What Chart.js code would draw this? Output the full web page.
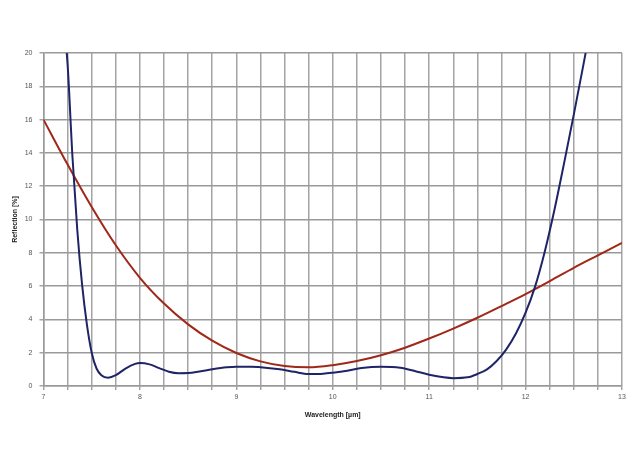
<!DOCTYPE html>
<html>
<head>
<meta charset="utf-8">
<script src="https://cdn.jsdelivr.net/npm/chart.js@4/dist/chart.umd.min.js"></script>
<style>
  html, body { margin: 0; padding: 0; background: #ffffff; }
  #wrap { width: 633px; height: 475px; }
</style>
</head>
<body>
<div id="wrap"><canvas id="c" width="633" height="475"></canvas></div>
<script>
// Wavelength [µm] / Reflection [%] for the two curves
const blueX = [7.20, 7.25, 7.30, 7.35, 7.40, 7.45, 7.50, 7.55, 7.60, 7.67, 7.75, 7.85, 7.95, 8.00, 8.10, 8.20, 8.30, 8.40, 8.50, 8.60, 8.75, 8.90, 9.00, 9.15, 9.30, 9.45, 9.60, 9.75, 9.90, 10.00, 10.15, 10.30, 10.50, 10.70, 10.85, 11.00, 11.15, 11.25, 11.40, 11.50, 11.60, 11.70, 11.80, 11.90, 12.00, 12.10, 12.20, 12.30, 12.40, 12.50, 12.60, 12.70];
const blueY = [22.5, 19.3, 13.8, 9.4, 6.1, 3.7, 2.0, 1.05, 0.65, 0.5, 0.65, 1.05, 1.33, 1.38, 1.3, 1.07, 0.86, 0.77, 0.78, 0.85, 1.0, 1.12, 1.16, 1.15, 1.1, 1.0, 0.85, 0.72, 0.74, 0.8, 0.92, 1.08, 1.16, 1.1, 0.9, 0.68, 0.52, 0.47, 0.52, 0.72, 1.0, 1.5, 2.2, 3.15, 4.4, 6.0, 8.1, 10.6, 13.4, 16.3, 19.3, 22.4];
const redX = [7.0, 7.25, 7.5, 7.75, 8.0, 8.25, 8.5, 8.75, 9.0, 9.25, 9.5, 9.75, 10.0, 10.25, 10.5, 10.75, 11.0, 11.25, 11.5, 11.75, 12.0, 12.25, 12.5, 12.75, 13.0];
const redY = [16.0, 13.3, 10.75, 8.45, 6.5, 4.95, 3.7, 2.72, 1.98, 1.48, 1.2, 1.12, 1.25, 1.5, 1.85, 2.3, 2.85, 3.45, 4.1, 4.8, 5.52, 6.3, 7.1, 7.85, 8.6];
const xTitle = 'Wavelength [µm]';
const yTitle = 'Reflection [%]';

const pts = (xs, ys) => xs.map((x, i) => ({ x: x, y: ys[i] }));

new Chart(document.getElementById('c'), {
  type: 'scatter',
  data: {
    datasets: [
      {
        data: pts(blueX, blueY),
        showLine: true,
        borderColor: '#1e2466',
        borderWidth: 2,
        pointRadius: 0,
        cubicInterpolationMode: 'monotone',
        fill: false
      },
      {
        data: pts(redX, redY),
        showLine: true,
        borderColor: '#a02818',
        borderWidth: 2,
        pointRadius: 0,
        cubicInterpolationMode: 'monotone',
        fill: false
      }
    ]
  },
  options: {
    responsive: false,
    animation: false,
    devicePixelRatio: 1,
    layout: { padding: { left: 7, right: 11, top: 53, bottom: 54 } },
    elements: { line: { capBezierPoints: false } },
    plugins: { legend: { display: false }, tooltip: { enabled: false } },
    scales: {
      x: {
        type: 'linear',
        min: 7, max: 13,
        afterFit: (s) => { s.height = 35; },
        grid: { color: '#a4a4a4', lineWidth: 1.5, tickLength: 4, tickColor: '#a4a4a4' },
        border: { color: '#9a9a9a', width: 1.5 },
        ticks: {
          stepSize: 0.25,
          autoSkip: false,
          maxRotation: 0,
          padding: 3,
          color: '#555555',
          font: { family: 'Liberation Sans', size: 7 },
          callback: (v) => Math.abs(v - Math.round(v)) < 1e-6 ? String(Math.round(v)) : ''
        },
        title: {
          display: true,
          text: xTitle,
          color: '#222222',
          font: { family: 'Liberation Sans', size: 7, weight: 'bold' },
          padding: { top: 2, bottom: 2 }
        }
      },
      y: {
        min: 0, max: 20,
        afterFit: (s) => { s.width = 36.5; },
        grid: { color: '#999999', lineWidth: 1.5, tickLength: 4, tickColor: '#a4a4a4' },
        border: { color: '#9a9a9a', width: 1.5 },
        ticks: {
          stepSize: 2,
          padding: 7,
          color: '#555555',
          font: { family: 'Liberation Sans', size: 7 }
        },
        title: {
          display: true,
          text: yTitle,
          color: '#222222',
          font: { family: 'Liberation Sans', size: 7, weight: 'bold' },
          padding: { top: 4, bottom: 4 }
        }
      }
    }
  }
});
</script>
</body>
</html>
